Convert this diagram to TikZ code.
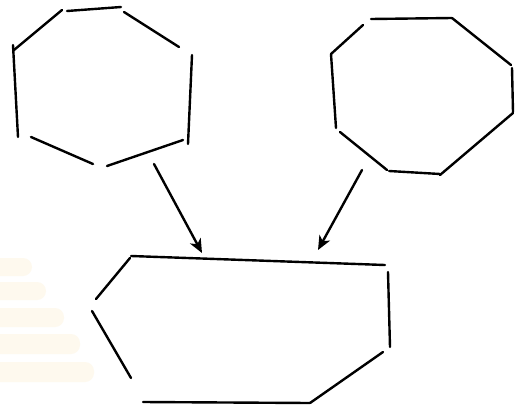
\documentclass[tikz,border=0pt]{standalone}
\usetikzlibrary{arrows.meta}
\definecolor{markfaint}{RGB}{254,249,238}

\tikzset{
  sketch/.style={line width=2.4pt,line cap=round,line join=round},
  sketcharrow/.style={sketch,-{Stealth[length=14pt,width=12pt,inset=4pt]}},
  markband/.style={fill=markfaint,rounded corners=9pt}
}

\begin{document}
\begin{tikzpicture}[x=1pt,y=-1pt]
    \path[use as bounding box,fill=white] (0,0) rectangle (527,407);

    % faint watermark
    \fill[markband] (-10,258) rectangle (32,276);
    \fill[markband] (-10,282) rectangle (46,300);
    \fill[markband] (-10,308) rectangle (64,327);
    \fill[markband] (-10,334) rectangle (80,354);
    \fill[markband] (-10,362) rectangle (94,382);

    % left heptagon
    \draw[sketch] (62,10) -- (14,50);
    \draw[sketch] (67,11) -- (121,7);
    \draw[sketch] (124,12) -- (179,47);
    \draw[sketch] (192,55) -- (188,144);
    \draw[sketch] (183,140) -- (107,166);
    \draw[sketch] (93,164) -- (31,137);
    \draw[sketch] (18,137) -- (13,45);

    % right octagon
    \draw[sketch] (371,19) -- (452,18);
    \draw[sketch] (452,18) -- (511,65);
    \draw[sketch] (512,68) -- (513,112);
    \draw[sketch] (513,113) -- (440,175);
    \draw[sketch] (440,174) -- (389,171);
    \draw[sketch] (387,170) -- (340,132);
    \draw[sketch] (336,128) -- (331,54);
    \draw[sketch] (331,54) -- (363,25);

    % merged polygon
    \draw[sketch] (131,256) -- (385,265);
    \draw[sketch] (388,272) -- (390,347);
    \draw[sketch] (383,352) -- (310,403);
    \draw[sketch] (310,403) -- (143,402);
    \draw[sketch] (131,378) -- (92,311);
    \draw[sketch] (96,299) -- (130,258);

    % arrows
    \coordinate (lefttail) at (154,164);
    \coordinate (lefthead) at (202,253);
    \coordinate (righttail) at (362,170);
    \coordinate (righthead) at (318,250);
    \draw[sketcharrow] (lefttail) -- (lefthead);
    \draw[sketcharrow] (righttail) -- (righthead);
\end{tikzpicture}
\end{document}
